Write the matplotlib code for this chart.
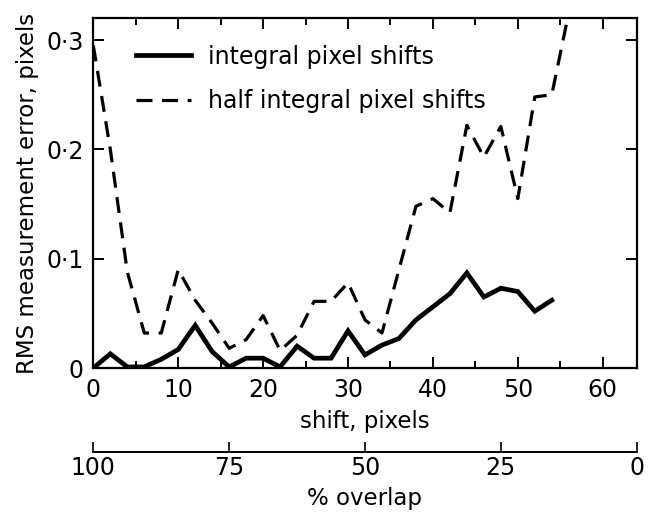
import matplotlib
matplotlib.use('Agg')
from matplotlib import pyplot as plt
from matplotlib.ticker import MultipleLocator, FixedLocator, FixedFormatter

# shift in pixels (every 2 px) and RMS error
shift_int = [0, 2, 4, 6, 8, 10, 12, 14, 16, 18, 20, 22, 24, 26, 28,
             30, 32, 34, 36, 38, 40, 42, 44, 46, 48, 50, 52, 54]
err_int = [0.0, 0.013, 0.001, 0.001, 0.008, 0.017, 0.039, 0.015, 0.001, 0.009,
           0.009, 0.001, 0.020, 0.009, 0.009, 0.034, 0.012, 0.021, 0.027, 0.044,
           0.056, 0.068, 0.087, 0.065, 0.073, 0.070, 0.052, 0.062]

shift_half = [0, 2, 4, 6, 8, 10, 12, 14, 16, 18, 20, 22, 24, 26, 28,
              30, 32, 34, 36, 38, 40, 42, 44, 46, 48, 50, 52, 54, 56]
err_half = [0.295, 0.200, 0.088, 0.032, 0.032, 0.090, 0.062, 0.041, 0.018, 0.026,
            0.048, 0.016, 0.030, 0.061, 0.061, 0.078, 0.044, 0.032, 0.090, 0.148,
            0.155, 0.142, 0.222, 0.193, 0.221, 0.155, 0.248, 0.250, 0.325]

yticks = [0, 0.1, 0.2, 0.3]
yticklabels = ['0', '0\u00b71', '0\u00b72', '0\u00b73']
overlap_ticks = [100, 75, 50, 25, 0]
window = 64  # pixels

plt.rcParams['font.family'] = 'DejaVu Sans'

fig = plt.figure(figsize=(6.55, 5.14), dpi=100)
ax = fig.add_axes([0.1425, 0.284, 0.8295, 0.6805])

ax.plot(shift_int, err_int, color='black', lw=3.4, solid_joinstyle='miter',
        label='integral pixel shifts')
ax.plot(shift_half, err_half, color='black', lw=2.3, dashes=(5.0, 3.0),
        label='half integral pixel shifts')

ax.set_xlim(0, window)
ax.set_ylim(0, 0.32)
ax.xaxis.set_major_locator(MultipleLocator(10))
ax.xaxis.set_minor_locator(MultipleLocator(5))
ax.yaxis.set_major_locator(FixedLocator(yticks))
ax.yaxis.set_major_formatter(FixedFormatter(yticklabels))
ax.tick_params(which='both', direction='in', top=True, right=True, width=1.4,
               labelsize=17, pad=7)
ax.tick_params(which='major', length=8)
ax.tick_params(which='minor', length=5)
for s in ax.spines.values():
    s.set_linewidth(1.6)

ax.set_xlabel('shift, pixels', fontsize=16.5, labelpad=6)
ax.set_ylabel('RMS measurement error, pixels', fontsize=16.5, labelpad=5)

leg = ax.legend(loc='upper left', bbox_to_anchor=(0.04, 0.985), frameon=False,
                fontsize=17, handlelength=2.3, handletextpad=0.75, labelspacing=0.85)

sec = ax.secondary_xaxis(-0.239, functions=(lambda s: 100 * (1 - s / window),
                                            lambda o: window * (1 - o / 100)))
sec.set_xticks(overlap_ticks)
sec.tick_params(direction='in', length=7, width=1.2, labelsize=17, pad=3)
sec.spines['bottom'].set_linewidth(1.4)
sec.set_xlabel('% overlap', fontsize=16.5, labelpad=5)

plt.savefig('out.png', dpi=100)
